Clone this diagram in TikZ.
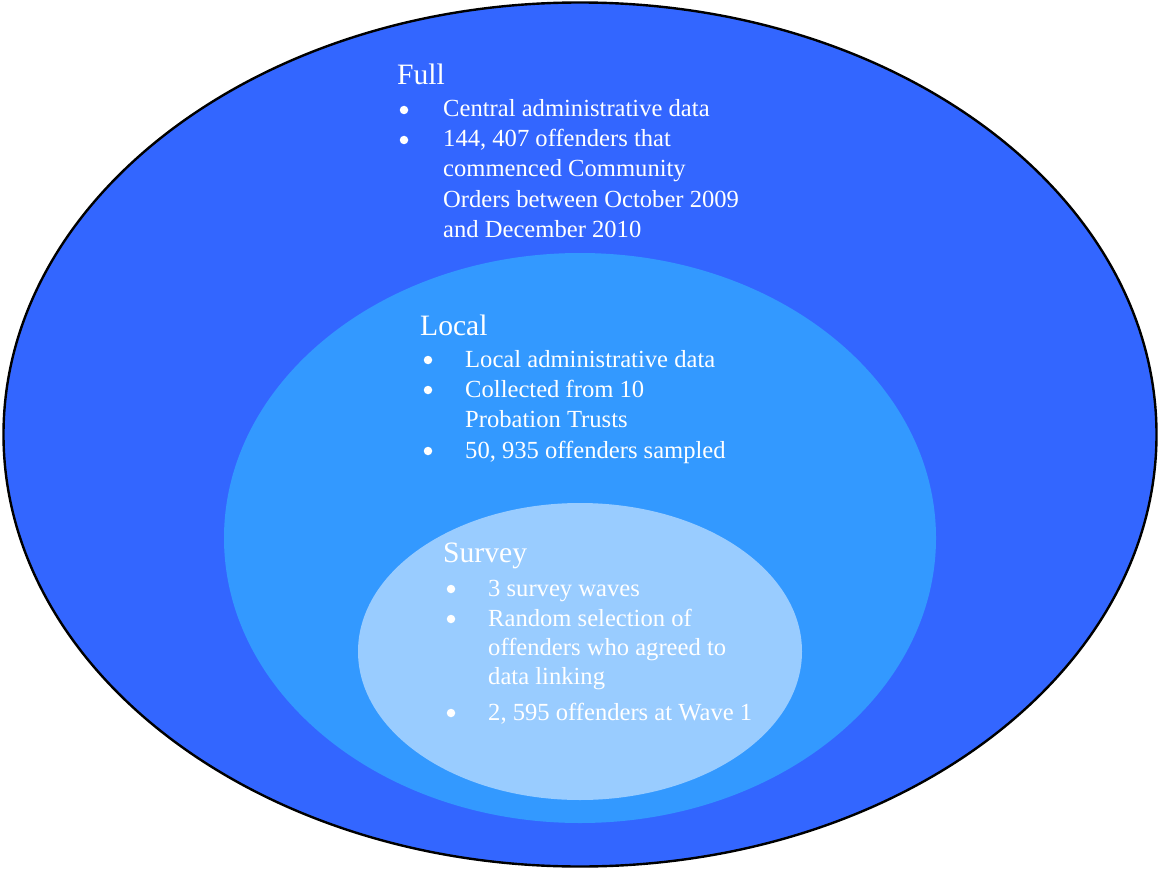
\documentclass[tikz,border=0pt]{standalone}
\usepackage{fontspec}
\setmainfont{Liberation Serif}
\definecolor{fullblue}{HTML}{3366FF}
\definecolor{localblue}{HTML}{3399FF}
\definecolor{surveyblue}{HTML}{99CCFF}
\tikzset{
    txt/.style={anchor=base west, inner sep=0pt, text=white, font=\fontsize{24.6}{30}\selectfont},
    ttl/.style={anchor=base west, inner sep=0pt, text=white, font=\fontsize{29.6}{34}\selectfont},
    bul/.style={circle, fill=white, inner sep=0pt, minimum size=8.5pt}
}
\begin{document}
\begin{tikzpicture}[x=1pt,y=-1pt]
    \useasboundingbox (0,0) rectangle (1158,869);
    % rings
    \filldraw[fill=fullblue, draw=black, line width=2.4pt] (580,434.5) ellipse [x radius=576.5pt, y radius=432pt];
    \fill[localblue] (580,538) ellipse [x radius=356pt, y radius=285pt];
    \fill[surveyblue] (580,651.5) ellipse [x radius=222pt, y radius=148.5pt];
    % full
    \node[ttl] (full) at (397,85) {Full};
    \node[bul] (fb1) at (404,110) {};
    \node[txt] (ft1) at (443,117) {Central administrative data};
    \node[bul] (fb2) at (404,140) {};
    \node[txt] (ft2) at (443,147) {144, 407 offenders that};
    \node[txt] (ft3) at (443,177) {commenced Community};
    \node[txt] (ft4) at (443,207) {Orders between October 2009};
    \node[txt] (ft5) at (443,237) {and December 2010};
    % local
    \node[ttl] (local) at (420,335) {Local};
    \node[bul] (lb1) at (428,360) {};
    \node[txt] (lt1) at (465,367) {Local administrative data};
    \node[bul] (lb2) at (428,390) {};
    \node[txt] (lt2) at (465,397) {Collected from 10};
    \node[txt] (lt3) at (465,427) {Probation Trusts};
    \node[bul] (lb3) at (428,451) {};
    \node[txt] (lt4) at (465,458) {50, 935 offenders sampled};
    % survey
    \node[ttl] (survey) at (443,562) {Survey};
    \node[bul] (sb1) at (451,589) {};
    \node[txt] (st1) at (488,596) {3 survey waves};
    \node[bul] (sb2) at (451,619) {};
    \node[txt] (st2) at (488,626) {Random selection of};
    \node[txt] (st3) at (488,655) {offenders who agreed to};
    \node[txt] (st4) at (488,684) {data linking};
    \node[bul] (sb3) at (451,713) {};
    \node[txt] (st5) at (488,720) {2, 595 offenders at Wave 1};
\end{tikzpicture}
\end{document}
